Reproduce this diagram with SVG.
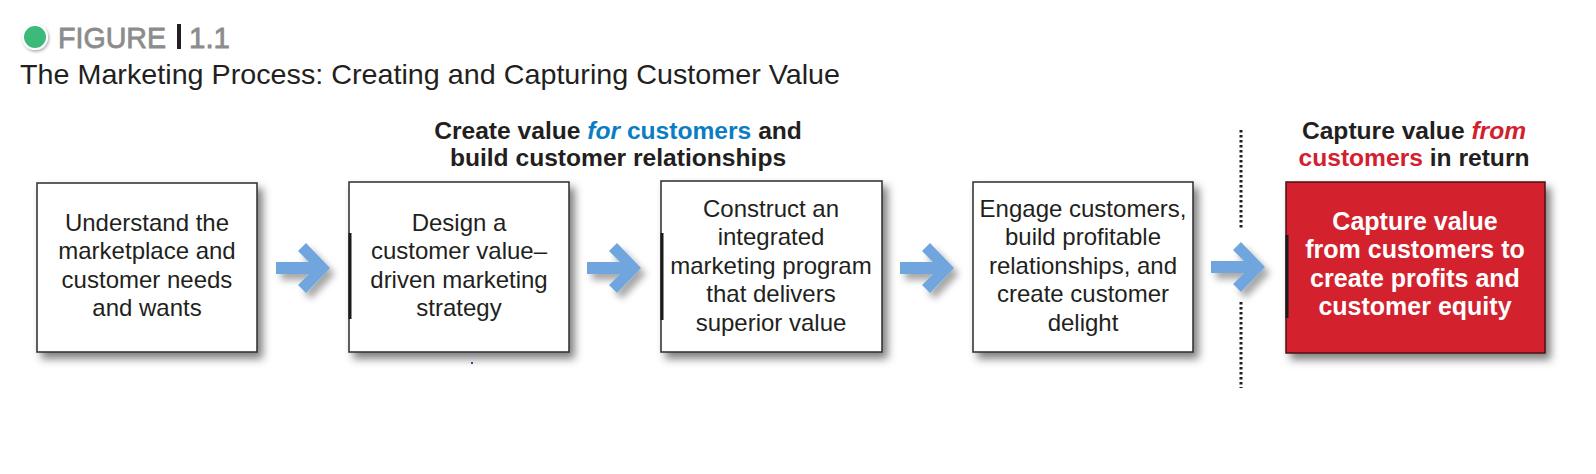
<svg xmlns="http://www.w3.org/2000/svg" width="1596" height="474" viewBox="0 0 1596 474">
<defs>
<filter id="sh" x="-10%" y="-10%" width="125%" height="130%">
<feDropShadow dx="5" dy="6" stdDeviation="4.5" flood-color="#000" flood-opacity="0.5"/>
</filter>
<filter id="ash" x="-20%" y="-20%" width="160%" height="160%">
<feDropShadow dx="5" dy="6" stdDeviation="3.5" flood-color="#000" flood-opacity="0.35"/>
</filter>
<filter id="csh" x="-50%" y="-50%" width="200%" height="200%">
<feDropShadow dx="1" dy="1.5" stdDeviation="1.5" flood-color="#000" flood-opacity="0.35"/>
</filter>
<polygon id="arrow" points="0,0 33,0 22,-11 30,-19 54,6 30,31 22,23 33,12 0,12"/>
</defs>
<style>
text { font-family: "Liberation Sans", Arial, sans-serif; }
.box { fill: #fff; stroke: #2b2b2b; stroke-width: 1.5; filter: url(#sh); }
.red { fill: #d3202e; stroke: #4a1414; stroke-width: 1.5; filter: url(#sh); }
.bt { font-size: 24px; fill: #231f20; text-anchor: middle; }
.rt { font-size: 25px; font-weight: bold; fill: #fff; text-anchor: middle; }
.hd { font-size: 24.6px; font-weight: bold; fill: #231f20; text-anchor: middle; }
.arr { fill: #6fa5de; filter: url(#ash); }
.thick { stroke: #1a1a1a; stroke-width: 3; }
.dots { stroke: #1e1e1e; stroke-width: 3; stroke-dasharray: 2.5 2.5; fill: none; }
.fig { font-size: 29.5px; fill: #8c8c8c; stroke: #8c8c8c; stroke-width: 0.8; }
</style>
<rect width="1596" height="474" fill="#fff"/>

<g id="title">
<circle cx="35" cy="37" r="12" fill="#3cb979" stroke="#fff" stroke-width="2" filter="url(#csh)"/>
<text class="fig" x="58" y="48" textLength="108" lengthAdjust="spacingAndGlyphs">FIGURE</text>
<rect x="177" y="24" width="4" height="25" fill="#231f20"/>
<text class="fig" x="189" y="48">1.1</text>
<text x="20" y="84" font-size="28" fill="#231f20" textLength="820" lengthAdjust="spacingAndGlyphs">The Marketing Process: Creating and Capturing Customer Value</text>
</g>

<g id="header-create">
<text class="hd" x="618" y="139">Create value <tspan fill="#0b7dc2" font-style="italic">for</tspan> <tspan fill="#0b7dc2">customers</tspan> and</text>
<text class="hd" x="618" y="166">build customer relationships</text>
</g>
<g id="header-capture">
<text class="hd" x="1414" y="139">Capture value <tspan fill="#d3202e" font-style="italic">from</tspan></text>
<text class="hd" x="1414" y="166"><tspan fill="#d3202e">customers</tspan> in return</text>
</g>

<g id="connectors">
<line class="dots" x1="1241" y1="130" x2="1241" y2="230"/>
<line class="dots" x1="1241" y1="302" x2="1241" y2="388"/>
<use href="#arrow" class="arr" x="276" y="262"/>
<use href="#arrow" class="arr" x="587" y="262"/>
<use href="#arrow" class="arr" x="900" y="262"/>
<use href="#arrow" class="arr" x="1211" y="261"/>
</g>

<g id="node1">
<rect class="box" x="37" y="183" width="220" height="169"/>
<text class="bt" x="147" y="231">Understand the</text>
<text class="bt" x="147" y="259">marketplace and</text>
<text class="bt" x="147" y="288">customer needs</text>
<text class="bt" x="147" y="316">and wants</text>
</g>

<g id="node2">
<rect class="box" x="349" y="182" width="220" height="170"/>
<line class="thick" x1="350" y1="233" x2="350" y2="319"/>
<text class="bt" x="459" y="231">Design a</text>
<text class="bt" x="459" y="259">customer value–</text>
<text class="bt" x="459" y="288">driven marketing</text>
<text class="bt" x="459" y="316">strategy</text>
<rect x="471" y="362" width="2" height="2" fill="#2a4a9a"/>
</g>

<g id="node3">
<rect class="box" x="661" y="181" width="221" height="171"/>
<line class="thick" x1="662" y1="233" x2="662" y2="320"/>
<text class="bt" x="771" y="217">Construct an</text>
<text class="bt" x="771" y="245">integrated</text>
<text class="bt" x="771" y="274">marketing program</text>
<text class="bt" x="771" y="302">that delivers</text>
<text class="bt" x="771" y="331">superior value</text>
</g>

<g id="node4">
<rect class="box" x="973" y="182" width="220" height="170"/>
<text class="bt" x="1083" y="217">Engage customers,</text>
<text class="bt" x="1083" y="245">build profitable</text>
<text class="bt" x="1083" y="274">relationships, and</text>
<text class="bt" x="1083" y="302">create customer</text>
<text class="bt" x="1083" y="331">delight</text>
</g>

<g id="node5">
<rect class="red" x="1286" y="182" width="259" height="171"/>
<line class="thick" x1="1287" y1="235" x2="1287" y2="318"/>
<text class="rt" x="1415" y="230">Capture value</text>
<text class="rt" x="1415" y="258">from customers to</text>
<text class="rt" x="1415" y="287">create profits and</text>
<text class="rt" x="1415" y="315">customer equity</text>
</g>
</svg>
